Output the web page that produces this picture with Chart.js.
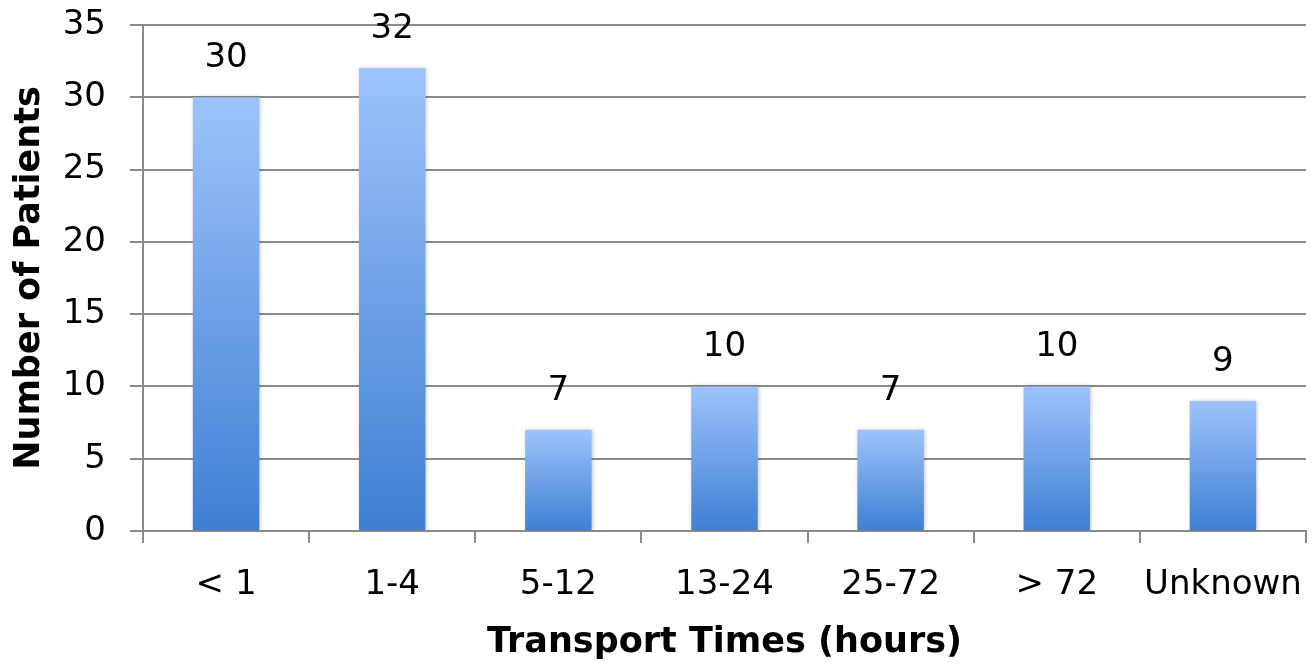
<!DOCTYPE html>
<html>
<head>
<meta charset="utf-8">
<script src="https://cdn.jsdelivr.net/npm/chart.js@4.4.1/dist/chart.umd.min.js"></script>
<style>
  html, body { margin: 0; padding: 0; background: #fff; }
  #wrap { width: 1313px; height: 669px; }
</style>
</head>
<body>
<div id="wrap"><canvas id="transportChart"></canvas></div>
<script>
// chart data
const categories = ["< 1", "1-4", "5-12", "13-24", "25-72", "> 72", "Unknown"];
const patientCounts = [30, 32, 7, 10, 7, 10, 9];
const yTicks = [0, 5, 10, 15, 20, 25, 30, 35];

const gridGray = "#8a8a8a";
const tickFont = { family: "DejaVu Sans", size: 34 };
const titleFont = { family: "DejaVu Sans", size: 35, weight: "bold" };

// one gradient per bar, light at the top, darker at the base
function barGradient(context) {
  const chart = context.chart;
  const yScale = chart.scales.y;
  if (!chart.chartArea || !yScale) return "#6a9fe6";
  const value = context.dataset.data[context.dataIndex];
  const top = yScale.getPixelForValue(value);
  const bottom = yScale.getPixelForValue(0);
  const g = chart.ctx.createLinearGradient(0, top, 0, bottom);
  g.addColorStop(0, "#9dc3fb");
  g.addColorStop(1, "#3e7fd3");
  return g;
}

// soft shadow around the bars
const barShadow = {
  id: "barShadow",
  beforeDatasetsDraw(chart) {
    const ctx = chart.ctx;
    ctx.save();
    ctx.shadowColor = "rgba(0,0,0,0.22)";
    ctx.shadowBlur = 4;
    ctx.shadowOffsetX = 1;
    ctx.shadowOffsetY = 0;
  },
  afterDatasetsDraw(chart) {
    chart.ctx.restore();
  }
};

// value labels above each bar
const valueLabels = {
  id: "valueLabels",
  afterDatasetsDraw(chart) {
    const ctx = chart.ctx;
    const meta = chart.getDatasetMeta(0);
    ctx.save();
    ctx.font = "34px 'DejaVu Sans'";
    ctx.fillStyle = "#000";
    ctx.textAlign = "center";
    ctx.textBaseline = "middle";
    meta.data.forEach((bar, i) => {
      ctx.fillText(String(patientCounts[i]), bar.x, bar.y - 39);
    });
    ctx.restore();
  }
};

new Chart(document.getElementById("transportChart"), {
  type: "bar",
  data: {
    labels: categories,
    datasets: [{
      data: patientCounts,
      backgroundColor: barGradient,
      borderWidth: 0,
      barPercentage: 0.4,
      categoryPercentage: 1.0
    }]
  },
  options: {
    responsive: true,
    maintainAspectRatio: false,
    animation: false,
    events: [],
    layout: { padding: { top: 25, right: 7, left: 0, bottom: 0 } },
    plugins: {
      legend: { display: false },
      tooltip: { enabled: false }
    },
    scales: {
      x: {
        grid: {
          display: true,
          drawOnChartArea: false,
          drawTicks: true,
          tickLength: 12,
          color: gridGray,
          lineWidth: 2,
          offset: true
        },
        border: { display: true, color: gridGray, width: 2 },
        ticks: { color: "#000", font: tickFont, padding: 22 },
        title: {
          display: true,
          text: "Transport Times (hours)",
          color: "#000",
          font: titleFont,
          padding: { top: 10, bottom: 5 }
        },
        afterFit(scale) {
          scale.height = 138;
          scale.paddingLeft = 0;
          scale.paddingRight = 0;
        }
      },
      y: {
        min: 0,
        max: 35,
        afterBuildTicks(scale) {
          scale.ticks = yTicks.map(v => ({ value: v }));
        },
        grid: {
          color: gridGray,
          lineWidth: 2,
          drawTicks: true,
          tickLength: 13
        },
        border: { display: true, color: gridGray, width: 2 },
        ticks: { color: "#000", font: tickFont, padding: 24 },
        title: {
          display: true,
          text: "Number of Patients",
          color: "#000",
          font: titleFont,
          padding: { top: 9, bottom: 0 }
        },
        afterFit(scale) {
          scale.width = 143;
          scale.paddingTop = 0;
          scale.paddingBottom = 0;
        }
      }
    }
  },
  plugins: [barShadow, valueLabels]
});
</script>
</body>
</html>
